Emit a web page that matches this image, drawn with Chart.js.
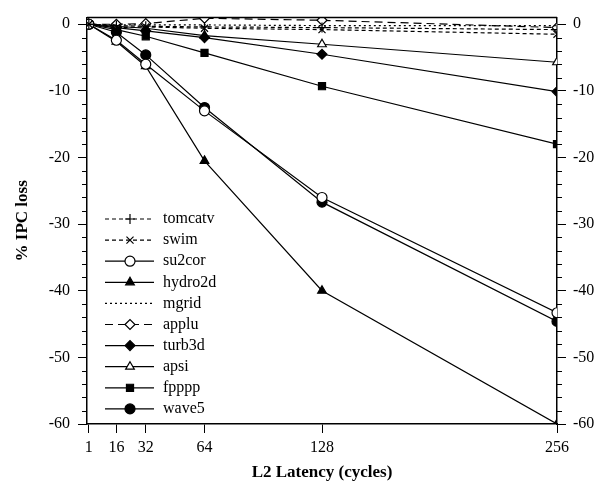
<!DOCTYPE html>
<html>
<head>
<meta charset="utf-8">
<script src="https://cdn.jsdelivr.net/npm/chart.js@4"></script>
<style>
  html, body { margin: 0; padding: 0; background: #fff; }
</style>
</head>
<body>
<canvas id="ipc-chart" width="603" height="487"></canvas>
<script>
// L2 latency (cycles) on x, % IPC loss on y
const latencies = [1, 16, 32, 64, 128, 256];
const xTicks = [1, 16, 32, 64, 128, 256];
const yTicks = [-60, -50, -40, -30, -20, -10, 0];

const tomcatv = [0, -0.2, -0.3, -0.4, -0.5, -0.8];
const swim    = [0, -0.5, -0.4, -0.6, -0.8, -1.5];
const su2cor  = [0, -2.4, -6.0, -13.0, -26.0, -43.3];
const hydro2d = [0, -2.6, -6.3, -20.5, -40.0, -60.0];
const mgrid   = [0, -0.1, -0.1, -0.1, -0.2, -0.2];
const applu   = [0, 0, 0.1, 0.9, 0.6, -0.5];
const turb3d  = [0, -0.5, -1.0, -2.0, -4.5, -10.1];
const apsi    = [0, -0.3, -0.6, -1.7, -3.0, -5.7];
const fpppp   = [0, -0.8, -1.8, -4.3, -9.3, -18.0];
const wave5   = [0, -1.2, -4.6, -12.5, -26.7, -44.6];

const FONT = "'Liberation Serif', 'DejaVu Serif', serif";

function series(label, values, style, fill, dash) {
  return {
    label,
    data: latencies.map((x, i) => ({ x, y: values[i] })),
    borderColor: '#000',
    borderWidth: 1.2,
    borderDash: dash || [],
    pointStyle: style || false,
    pointRadius: style ? 5 : 0,
    pointBackgroundColor: fill ? '#000' : '#fff',
    pointBorderColor: '#000',
    pointBorderWidth: 1.2,
    tension: 0,
  };
}

const datasets = [
  series('tomcatv', tomcatv, 'cross', false, [4, 3]),
  series('swim', swim, 'crossRot', false, [4, 3]),
  series('su2cor', su2cor, 'circle', false),
  series('hydro2d', hydro2d, 'triangle', true),
  series('mgrid', mgrid, null, false, [2, 3]),
  series('applu', applu, 'rectRot', false, [8, 5]),
  series('turb3d', turb3d, 'rectRot', true),
  series('apsi', apsi, 'triangle', false),
  series('fpppp', fpppp, 'rect', true),
  series('wave5', wave5, 'circle', true),
];

// frame, minor ticks and the in-plot legend
const extras = {
  id: 'extras',
  afterDraw(chart) {
    const ctx = chart.ctx;
    const area = chart.chartArea;
    const y = chart.scales.y;
    ctx.save();
    ctx.strokeStyle = '#000';
    ctx.lineWidth = 1.5;
    ctx.beginPath();
    ctx.moveTo(area.left, area.top);
    ctx.lineTo(area.right, area.top);
    ctx.stroke();

    ctx.lineWidth = 1;
    for (let v = -58; v <= 0; v += 2) {
      if (v % 10 === 0) continue;
      const py = Math.round(y.getPixelForValue(v)) + 0.5;
      ctx.beginPath();
      ctx.moveTo(area.left - 5, py);
      ctx.lineTo(area.left, py);
      ctx.moveTo(area.right, py);
      ctx.lineTo(area.right + 5, py);
      ctx.stroke();
    }

    // legend
    ctx.font = '16px ' + FONT;
    ctx.textBaseline = 'middle';
    ctx.fillStyle = '#000';
    chart.data.datasets.forEach((ds, i) => {
      const ly = 219 + i * 21.1;
      ctx.strokeStyle = '#000';
      ctx.lineWidth = 1.2;
      ctx.setLineDash(ds.borderDash);
      ctx.beginPath();
      ctx.moveTo(105, ly);
      ctx.lineTo(154, ly);
      ctx.stroke();
      ctx.setLineDash([]);
      if (ds.pointStyle) {
        ctx.fillStyle = ds.pointBackgroundColor;
        Chart.helpers.drawPoint(ctx, {
          pointStyle: ds.pointStyle, radius: 5, rotation: 0, borderWidth: 1.2,
        }, 130, ly);
      }
      ctx.fillStyle = '#000';
      ctx.fillText(ds.label, 163, ly);
    });
    ctx.restore();
  },
};

const axisTitle = { family: FONT, size: 17, weight: 'bold' };
const tickFont = { family: FONT, size: 16 };

new Chart(document.getElementById('ipc-chart'), {
  type: 'line',
  data: { datasets },
  plugins: [extras],
  options: {
    responsive: false,
    animation: false,
    devicePixelRatio: 1,
    layout: { padding: { top: 13, left: 0, right: 0, bottom: 0 } },
    plugins: { legend: { display: false }, tooltip: { enabled: false } },
    scales: {
      x: {
        type: 'linear',
        min: 0,
        max: 256,
        afterBuildTicks: s => { s.ticks = xTicks.map(v => ({ value: v })); },
        afterFit: s => { s.height = 63; },
        ticks: { font: tickFont, color: '#000', padding: 5, maxRotation: 0, autoSkip: false },
        grid: { drawOnChartArea: false, tickLength: 9, tickColor: '#000', tickWidth: 1 },
        border: { color: '#000', width: 1.5 },
        title: { display: true, text: 'L2 Latency (cycles)', font: axisTitle, color: '#000', padding: { top: 0, bottom: 4 } },
      },
      y: {
        position: 'left',
        min: -60,
        max: 1,
        afterBuildTicks: s => { s.ticks = yTicks.map(v => ({ value: v })); },
        afterFit: s => { s.width = 87; },
        ticks: { font: tickFont, color: '#000', padding: 8 },
        grid: { drawOnChartArea: false, tickLength: 9, tickColor: '#000', tickWidth: 1 },
        border: { color: '#000', width: 1.5 },
        title: { display: true, text: '% IPC loss', font: axisTitle, color: '#000', padding: { top: 12, bottom: 0 } },
      },
      y2: {
        position: 'right',
        min: -60,
        max: 1,
        afterBuildTicks: s => { s.ticks = yTicks.map(v => ({ value: v })); },
        afterFit: s => { s.width = 46; },
        ticks: { font: tickFont, color: '#000', padding: 7 },
        grid: { drawOnChartArea: false, tickLength: 9, tickColor: '#000', tickWidth: 1 },
        border: { color: '#000', width: 1.5 },
      },
    },
  },
});
</script>
</body>
</html>
